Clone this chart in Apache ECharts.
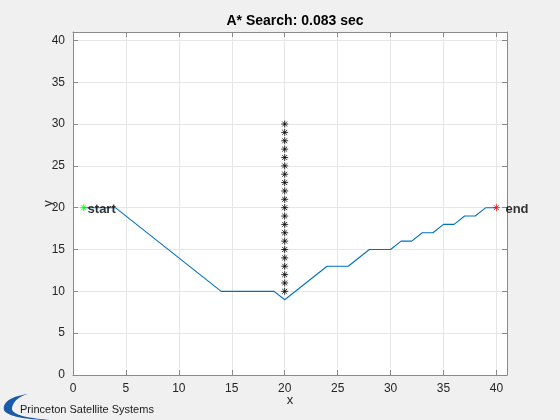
<!DOCTYPE html>
<html>
<head>
<meta charset="utf-8">
<script src="https://cdn.jsdelivr.net/npm/echarts@6/dist/echarts.min.js"></script>
<style>
  html, body { margin: 0; padding: 0; background: #f0f0f0; }
  #chart { width: 560px; height: 420px; }
</style>
</head>
<body>
<div id="chart"></div>
<script>
// path found by the search
const pathX = [1, 4, 14, 19, 20, 24, 26, 28, 30, 31, 32, 33, 34, 35, 36, 37, 38, 39, 40];
const pathY = [20, 20, 10, 10, 9, 13, 13, 15, 15, 16, 16, 17, 17, 18, 18, 19, 19, 20, 20];
// obstacle column
const obstacleX = [20, 20, 20, 20, 20, 20, 20, 20, 20, 20, 20, 20, 20, 20, 20, 20, 20, 20, 20, 20, 20];
const obstacleY = [10, 11, 12, 13, 14, 15, 16, 17, 18, 19, 20, 21, 22, 23, 24, 25, 26, 27, 28, 29, 30];
const startPt = [1, 20];
const endPt = [40, 20];
const titleText = 'A* Search: 0.083 sec';

const font = 'Helvetica, "Liberation Sans", Arial, sans-serif';
const star = 'path://M5,0L5,10M0,5L10,5M1.5,1.5L8.5,8.5M1.5,8.5L8.5,1.5';

let chart = echarts.init(document.getElementById('chart'));

let tickFmt = (v) => (v % 5 === 0 ? String(v) : '');

// cubic bezier sampler for the logo swoosh
function bez(p0, p1, p2, p3, n) {
    let pts = [];
    for (let i = 0; i <= n; i++) {
        let t = i / n, u = 1 - t;
        pts.push([
            u * u * u * p0[0] + 3 * u * u * t * p1[0] + 3 * u * t * t * p2[0] + t * t * t * p3[0],
            u * u * u * p0[1] + 3 * u * u * t * p1[1] + 3 * u * t * t * p2[1] + t * t * t * p3[1]
        ]);
    }
    return pts;
}
let swoosh = bez([28, 394], [12, 396], [2, 402], [4, 410], 20)
    .concat(bez([4, 410], [6, 416], [26, 420], [50, 420], 20))
    .concat(bez([50, 420], [28, 418], [11, 415], [12, 408], 20))
    .concat(bez([12, 408], [13, 401], [20, 396], [28, 394], 20));

function axisBase(pos, showLabel) {
    return {
        type: 'value',
        position: pos,
        min: 0,
        max: 41,
        interval: 5,
        axisLine: { show: true, onZero: false, lineStyle: { color: '#8a8a8a', width: 1 } },
        axisTick: { show: true, inside: true, length: 5, lineStyle: { color: '#8a8a8a', width: 1 } },
        axisLabel: {
            show: showLabel,
            color: '#262626',
            fontSize: 12,
            fontFamily: font,
            formatter: tickFmt,
            showMaxLabel: false
        },
        splitLine: { show: showLabel, lineStyle: { color: '#e6e6e6', width: 1 } }
    };
}

let xMain = axisBase('bottom', true);
xMain.name = 'x';
xMain.nameLocation = 'middle';
xMain.nameGap = 19;
xMain.nameMoveOverlap = false;
xMain.nameTextStyle = { color: '#262626', fontSize: 13, fontFamily: font };
let yMain = axisBase('left', true);
yMain.name = 'y';
yMain.nameLocation = 'middle';
yMain.nameGap = 18;
yMain.nameMoveOverlap = false;
yMain.nameTextStyle = { color: '#262626', fontSize: 13, fontFamily: font };

let labelStyle = {
    show: true,
    position: 'right',
    color: '#000',
    fontSize: 13,
    fontWeight: 'bold',
    fontFamily: font
};

let option = {
    backgroundColor: '#f0f0f0',
    animation: false,
    title: {
        text: titleText,
        left: 290,
        textAlign: 'center',
        top: 9,
        textStyle: { fontSize: 14, fontWeight: 'bold', color: '#000', fontFamily: font }
    },
    grid: {
        left: 73, right: 53, top: 32, bottom: 45,
        show: true,
        backgroundColor: '#fff',
        borderWidth: 0
    },
    xAxis: [xMain, axisBase('top', false)],
    yAxis: [yMain, axisBase('right', false)],
    series: [
        {
            name: 'path',
            type: 'line',
            data: pathX.map((x, i) => [x, pathY[i]]),
            showSymbol: false,
            lineStyle: { color: '#0072bd', width: 1.1 },
            z: 3
        },
        {
            name: 'obstacles',
            type: 'scatter',
            data: obstacleX.map((x, i) => [x, obstacleY[i]]),
            symbol: star,
            symbolSize: 7,
            itemStyle: { color: 'none', borderColor: '#000', borderWidth: 1 },
            z: 4
        },
        {
            name: 'start',
            type: 'scatter',
            data: [startPt],
            symbol: star,
            symbolSize: 7,
            itemStyle: { color: 'none', borderColor: '#00ff00', borderWidth: 1 },
            label: Object.assign({}, labelStyle, { formatter: 'start', distance: 0, offset: [-2, 2] }),
            z: 5
        },
        {
            name: 'end',
            type: 'scatter',
            data: [endPt],
            symbol: star,
            symbolSize: 7,
            itemStyle: { color: 'none', borderColor: '#ff0000', borderWidth: 1 },
            label: Object.assign({}, labelStyle, { formatter: 'end', distance: 3, offset: [0, 2] }),
            z: 5
        }
    ],
    graphic: [
        {   // logo swoosh
            type: 'polygon',
            shape: { points: swoosh },
            style: { fill: '#1a5aa8' }
        },
        {
            type: 'text',
            left: 20,
            top: 404,
            style: {
                text: 'Princeton Satellite Systems',
                fill: '#1a1a1a',
                fontSize: 11,
                fontFamily: font
            }
        }
    ]
};
chart.setOption(option);
</script>
</body>
</html>
